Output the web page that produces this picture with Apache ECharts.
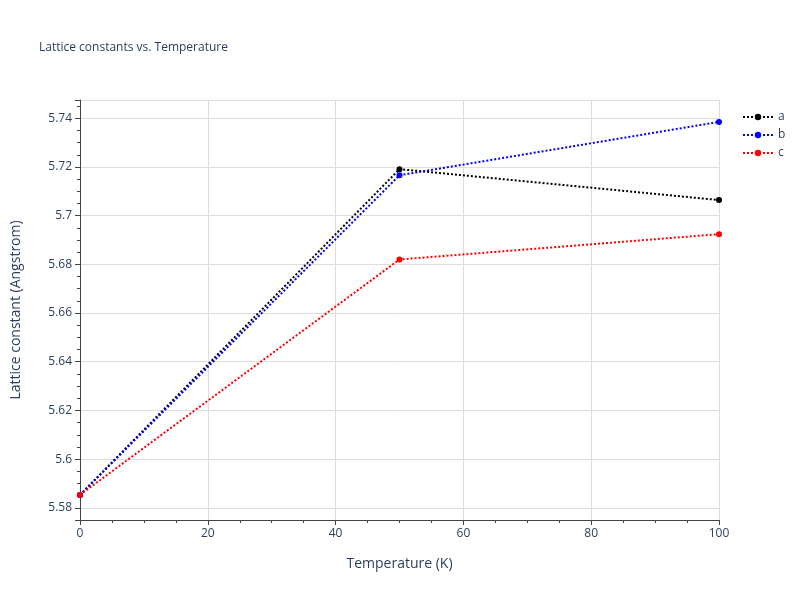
<!DOCTYPE html>
<html><head><meta charset="utf-8">
<script src="https://cdn.jsdelivr.net/npm/echarts@6/dist/echarts.min.js"></script>
<style>html,body{margin:0;padding:0}#c{width:800px;height:600px}</style>
</head><body><div id="c"></div>
<script>
const temps = [0, 50, 100];
const seriesA = [5.5853, 5.7191, 5.7064];
const seriesB = [5.5853, 5.7166, 5.7385];
const seriesC = [5.5853, 5.6820, 5.6924];
const names = ['a', 'b', 'c'];
const colors = ['#000000', '#0000ff', '#ff0000'];
const all = [seriesA, seriesB, seriesC];
const chart = echarts.init(document.getElementById('c'));
const font = '"Open Sans", Arial, sans-serif';
chart.setOption({
  animation: false,
  backgroundColor: '#fff',
  title: {text: 'Lattice constants vs. Temperature', left: 34, top: 37,
    textStyle: {fontSize: 12, fontWeight: 'normal', color: '#2a3f5f', fontFamily: font}},
  legend: {orient: 'vertical', left: 737, top: 106, itemGap: 6, itemWidth: 30, itemHeight: 8,
    textStyle: {color: '#2a3f5f', fontSize: 12, fontFamily: font}},
  grid: {left: 80, right: 81, top: 100, bottom: 80},
  xAxis: {type: 'value', min: 0, max: 100, interval: 20,
    name: 'Temperature (K)', nameLocation: 'middle', nameGap: 37,
    nameTextStyle: {fontSize: 14, color: '#2a3f5f', fontFamily: font},
    axisLine: {show: true, onZero: false, lineStyle: {color: '#444'}},
    axisTick: {show: true, length: 5, lineStyle: {color: '#444'}},
    minorTick: {show: true, splitNumber: 4, length: 3, lineStyle: {color: '#444'}},
    axisLabel: {color: '#2a3f5f', fontSize: 12, fontFamily: font},
    splitLine: {lineStyle: {color: '#ddd'}}},
  yAxis: {type: 'value', min: 5.575, max: 5.7475, splitNumber: 9,
    name: 'Lattice constant (Angstrom)', nameLocation: 'middle', nameGap: 57,
    nameTextStyle: {fontSize: 14, color: '#2a3f5f', fontFamily: font},
    axisLine: {show: true, lineStyle: {color: '#444'}},
    axisTick: {show: true, length: 5, lineStyle: {color: '#444'}},
    minorTick: {show: true, splitNumber: 4, length: 3, lineStyle: {color: '#444'}},
    axisLabel: {color: '#2a3f5f', fontSize: 12, fontFamily: font, showMinLabel: false, showMaxLabel: false},
    splitLine: {lineStyle: {color: '#ddd'}}},
  series: all.map((d, i) => ({
    name: names[i], type: 'line', data: temps.map((t, j) => [t, d[j]]),
    symbol: 'circle', symbolSize: 6, color: colors[i],
    lineStyle: {type: 'dotted', width: 2, color: colors[i]},
    itemStyle: {color: colors[i]}
  }))
});
</script></body></html>
